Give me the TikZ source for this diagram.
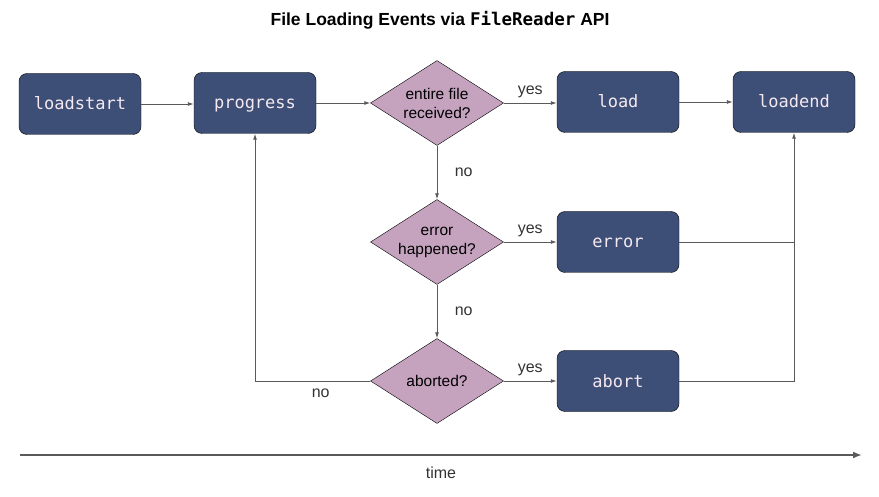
\documentclass[tikz,border=0pt]{standalone}
\usepackage{fontspec}
\setmainfont{Liberation Sans}
\setmonofont{DejaVu Sans Mono}
\usetikzlibrary{positioning, arrows.meta, shapes.geometric}
\definecolor{eventblue}{HTML}{3D4F77}
\definecolor{mauve}{HTML}{C5A3BF}
\definecolor{linegray}{HTML}{5A5A5A}
\definecolor{paletext}{HTML}{F5E8F0}

\begin{document}
\begin{tikzpicture}[
    x=1pt, y=-1pt,
    font=\fontsize{15}{17}\selectfont,
    % Styles
    eventbox/.style={rectangle, draw=black, fill=eventblue, rounded corners=8pt, minimum width=122pt, minimum height=61pt, inner sep=0pt, text height=13pt, text depth=1pt, text=paletext, font=\fontsize{17}{19}\selectfont\ttfamily},
    decision/.style={diamond, aspect=1.56, draw=black, fill=mauve, minimum width=133pt, minimum height=85pt, inner sep=0pt, align=center, font=\fontsize{15.5}{19}\selectfont},
    edgelabel/.style={text=black!80, font=\fontsize{16}{18}\selectfont},
    arrow/.style={-{Latex[length=6pt, width=4pt]}, linegray, line width=0.9pt},
    plainline/.style={linegray, line width=0.9pt}
]
\useasboundingbox (0,0) rectangle (879,497);

% ==================== TITLE ====================
\node[font=\fontsize{17.5}{20}\selectfont\bfseries] (title) at (440,20) {File Loading Events via \texttt{FileReader} API};

% ==================== TOP ROW ====================
\node[eventbox] (loadstart) at (80,104) {loadstart};
\node[eventbox] (progress) at (255,103) {progress};
\node[decision] (received) at (437,103) {entire file\\received?};
\node[eventbox] (load) at (618,102) {load};
\node[eventbox] (loadend) at (794,102) {loadend};

% ==================== ERROR / ABORT ====================
\node[decision] (happened) at (437,242) {error\\happened?};
\node[eventbox] (error) at (618,242) {error};
\node[decision] (aborted) at (437,381) {aborted?};
\node[eventbox] (abort) at (618,381) {abort};

% Junctions
\coordinate (errjoin) at (794,242);
\coordinate (abortjoin) at (794,381);
\coordinate (backturn) at (255,381);

% ==================== CONNECTORS ====================
\draw[arrow] (loadstart.east) -- (loadstart.east -| progress.west);
\draw[arrow] (progress.east) -- (received.west);
\draw[arrow] (received.east) -- node[edgelabel, above=1pt] {yes} (received.east -| load.west);
\draw[arrow] (load) -- (loadend);
\draw[arrow] (received.south) -- node[edgelabel, right=14pt] {no} (happened.north);
\draw[arrow] (happened.east) -- node[edgelabel, above=1pt] {yes} (error.west);
\draw[arrow] (happened.south) -- node[edgelabel, right=14pt] {no} (aborted.north);
\draw[arrow] (aborted.east) -- node[edgelabel, above=1pt] {yes} (abort.west);
\draw[arrow] (aborted.west) -- node[edgelabel, below=4pt, pos=0.43] {no} (backturn) -- (progress.south);
\draw[plainline] (error.east) -- (errjoin);
\draw[arrow] (abort.east) -- (abortjoin) -- (loadend.south);

% ==================== TIME AXIS ====================
\coordinate (tstart) at (20,455);
\coordinate (tend) at (862,455);
\draw[-{Latex[length=9pt, width=7pt]}, linegray, line width=2pt] (tstart) -- node[edgelabel, below=8pt] {time} (tend);

\end{tikzpicture}
\end{document}
